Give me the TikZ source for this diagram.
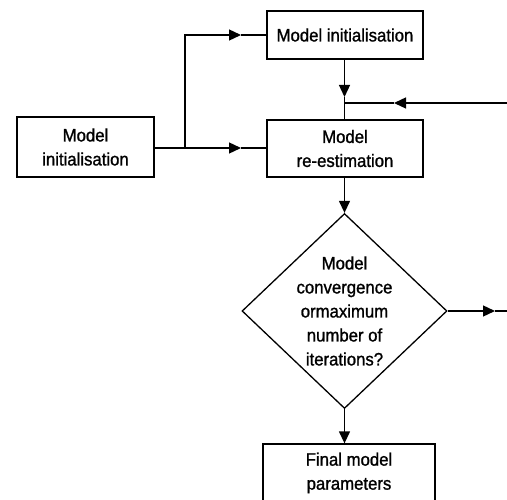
\documentclass[tikz,border=0pt]{standalone}
\usepackage{fontspec}
\setmainfont[FakeBold=1.2,FakeStretch=0.93]{Liberation Sans}
\usetikzlibrary{shapes.geometric,arrows.meta}
\begin{document}
\begin{tikzpicture}[x=1pt,y=-1pt,
  line width=1.3pt,
  every node/.style={font=\fontsize{18}{24}\selectfont},
  box/.style={draw,rectangle,align=center,inner sep=0pt},
  tip/.style={-{Triangle[length=12pt,width=11pt]}}]
\useasboundingbox (0,0) rectangle (507,500);
% boxes
\node[box,minimum width=156pt,minimum height=48pt] (top) at (345,35) {Model initialisation};
\node[box,minimum width=137pt,minimum height=60pt] (left) at (85.5,147) {Model\\initialisation};
\node[box,minimum width=156pt,minimum height=57pt] (re) at (345,148.5) {Model\\re-estimation};
\node[draw,diamond,minimum width=205pt,minimum height=195pt,inner sep=0pt] (dia) at (344.5,311) {};
\node[align=center] (diatext) at (dia.center) {Model\\convergence\\ormaximum\\number of\\iterations?};
\node[box,minimum width=172pt,minimum height=58pt] (final) at (349,473) {Final model\\parameters};
% coordinates
\coordinate (br) at (185,148);
\coordinate (t1) at (241,35);
\coordinate (t2) at (241,148);
\coordinate (j) at (344.5,103);
\coordinate (t3) at (344.5,97);
\coordinate (rin) at (507,103);
\coordinate (t4) at (394,103);
\coordinate (t5) at (495,311);
\coordinate (rout) at (507,311);
% connectors
\draw[tip] (left.east |- br) -- (t2);
\draw (t2) -- (re.west |- br);
\draw[tip] (br) |- (t1);
\draw (t1) -- (top.west |- t1);
\draw[tip] (top.south -| j) -- (t3);
\draw (t3) -- (re.north -| j);
\draw[tip] (rin) -- (t4);
\draw (t4) -- (j);
\draw[tip] (re.south -| dia.north) -- (dia.north);
\draw[tip] (dia.east) -- (t5);
\draw (t5) -- (rout);
\draw[tip] (dia.south) -- (final.north -| dia.south);
\end{tikzpicture}
\end{document}
